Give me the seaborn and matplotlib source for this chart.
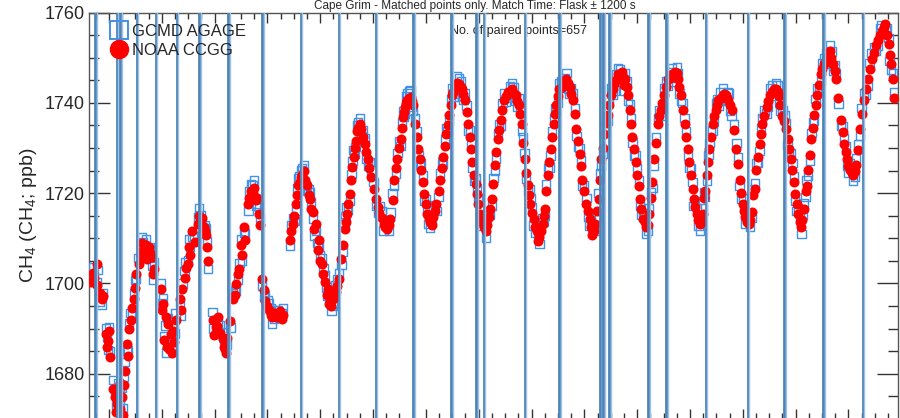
import matplotlib
matplotlib.use("Agg")
import matplotlib.pyplot as plt
from matplotlib.lines import Line2D
from matplotlib.ticker import MultipleLocator
import pandas as pd
import seaborn as sns

# Sampling times of the paired flask / in-situ measurements (decimal year)
pair_time = [
    1993.66, 1993.72, 1993.77, 1993.83, 1993.89, 1993.94, 1993.98, 1994.02, 1994.08, 1994.11,
    1994.15, 1994.21, 1994.24, 1994.28,
    1994.34, 1994.38, 1994.41, 1994.47, 1994.51, 1994.56, 1994.60, 1994.64, 1994.70, 1994.75,
    1994.81, 1994.85,
    1994.98, 1995.02, 1995.07, 1995.11, 1995.17, 1995.22, 1995.26,
    1995.34, 1995.39, 1995.43, 1995.49, 1995.54, 1995.62, 1995.68, 1995.73, 1995.79, 1995.83,
    1995.88,
    1995.96, 1996.02, 1996.07, 1996.15, 1996.20, 1996.24, 1996.30,
    1996.35, 1996.41, 1996.47, 1996.52, 1996.58, 1996.64, 1996.69, 1996.75, 1996.81, 1996.84,
    1996.90, 1996.96, 1997.03, 1997.09, 1997.16, 1997.24, 1997.30,
    1997.43, 1997.48, 1997.54, 1997.58, 1997.63, 1997.69, 1997.75, 1997.80, 1997.86, 1997.92,
    1997.97,
    1998.03, 1998.09, 1998.14, 1998.18, 1998.24, 1998.29, 1998.35,
    1998.43, 1998.46, 1998.50, 1998.56, 1998.61, 1998.65, 1998.69, 1998.75, 1998.78, 1998.84,
    1998.90,
    1998.97, 1999.05, 1999.12, 1999.20, 1999.27, 1999.33,
    1999.40, 1999.46, 1999.52, 1999.57, 1999.61, 1999.65, 1999.71, 1999.76, 1999.80,
    1999.86, 1999.91, 1999.97, 2000.03, 2000.08, 2000.14, 2000.20,
    2000.27, 2000.33, 2000.38, 2000.44, 2000.50, 2000.55, 2000.63, 2000.69, 2000.74, 2000.80,
    2000.86, 2000.91, 2000.97, 2001.02, 2001.08, 2001.14, 2001.19, 2001.25,
    2001.31, 2001.36, 2001.42, 2001.48, 2001.55, 2001.63, 2001.70, 2001.76, 2001.82,
    2001.87, 2001.93, 2001.98, 2002.04, 2002.10, 2002.15, 2002.21, 2002.25,
    2002.31, 2002.36, 2002.42, 2002.47, 2002.53, 2002.61, 2002.66, 2002.72, 2002.78,
    2002.85, 2002.91, 2002.96, 2003.04, 2003.10, 2003.15, 2003.21, 2003.27,
    2003.32, 2003.38, 2003.44, 2003.51, 2003.57, 2003.64, 2003.72, 2003.77, 2003.83,
    2003.89, 2003.94, 2004.00, 2004.06, 2004.11, 2004.17, 2004.23,
    2004.32, 2004.40, 2004.45, 2004.51, 2004.58, 2004.66, 2004.72, 2004.77, 2004.83,
    2004.90, 2004.96, 2005.02, 2005.07, 2005.13, 2005.19, 2005.24,
    2005.32, 2005.37, 2005.43, 2005.49, 2005.54, 2005.62, 2005.68, 2005.73, 2005.79,
    2005.88, 2005.94, 2006.00, 2006.05, 2006.11, 2006.17,
    2006.26, 2006.32, 2006.37, 2006.45, 2006.52, 2006.60, 2006.66, 2006.71,
    2006.82, 2006.88, 2006.94, 2006.99, 2007.05, 2007.11, 2007.16,
    2007.24, 2007.30, 2007.35, 2007.41, 2007.48, 2007.54, 2007.60, 2007.65, 2007.71, 2007.77,
    2007.86, 2007.92, 2007.97, 2008.03, 2008.09, 2008.14,
    2008.22, 2008.29, 2008.37, 2008.44, 2008.52, 2008.60, 2008.67, 2008.73, 2008.78, 2008.84,
]

# NOAA CCGG flask CH4 (ppb)
noaa_ch4 = [
    1700.4, 1701.3, 1699.6, 1697.8, 1697.1, 1688.7, 1687.2, 1683.8, 1676.5, 1674.8,
    1673.2, 1672.1, 1674.8, 1677.6,
    1686.5, 1689.8, 1692.0, 1696.5, 1702.0, 1704.2, 1706.4, 1707.5, 1708.6, 1708.0,
    1705.8, 1703.1,
    1698.7, 1695.4, 1692.5, 1690.9, 1688.7, 1689.4, 1692.0,
    1696.5, 1698.7, 1701.3, 1704.2, 1706.4, 1709.1, 1713.1, 1713.7, 1712.4, 1710.8,
    1704.9,
    1692.0, 1690.3, 1692.5, 1687.6, 1685.4, 1688.0, 1691.6,
    1696.5, 1699.8, 1703.1, 1706.4, 1709.7, 1717.5, 1720.4, 1721.2, 1719.0, 1715.3,
    1700.9, 1696.0, 1694.2, 1692.5, 1692.5, 1693.8, 1693.1,
    1709.7, 1713.1, 1717.5, 1721.9, 1723.5, 1724.8, 1721.9, 1718.6, 1715.9, 1713.1,
    1709.7,
    1704.2, 1700.4, 1698.7, 1696.9, 1696.5, 1698.2, 1700.9,
    1708.6, 1712.0, 1715.3, 1719.7, 1725.7, 1730.1, 1733.7, 1735.2, 1734.1, 1730.8,
    1727.5,
    1723.5, 1718.6, 1715.7, 1713.1, 1712.0, 1714.2,
    1723.0, 1727.5, 1731.9, 1736.8, 1739.0, 1740.7, 1741.4, 1739.6, 1735.2,
    1729.7, 1725.2, 1719.7, 1715.3, 1713.7, 1714.6, 1717.5,
    1723.0, 1727.9, 1733.0, 1737.4, 1741.8, 1743.4, 1744.1, 1743.0, 1740.7, 1735.2,
    1729.7, 1724.1, 1719.7, 1715.3, 1713.1, 1711.5, 1714.6, 1718.6,
    1726.3, 1731.9, 1736.3, 1740.7, 1742.5, 1743.0, 1741.8, 1739.6, 1735.2,
    1727.5, 1721.9, 1717.5, 1714.2, 1711.5, 1710.2, 1713.1, 1716.4,
    1724.1, 1729.7, 1735.2, 1739.6, 1743.0, 1744.7, 1745.2, 1743.4, 1740.7,
    1734.1, 1728.6, 1723.0, 1717.5, 1714.2, 1710.8, 1713.1, 1718.6,
    1727.5, 1733.0, 1737.4, 1741.8, 1744.1, 1746.3, 1746.9, 1745.2, 1741.8,
    1735.2, 1729.7, 1724.1, 1718.6, 1714.2, 1712.4, 1715.3,
    1727.5, 1735.2, 1738.5, 1741.8, 1745.2, 1746.3, 1746.9, 1745.2, 1741.8,
    1735.2, 1729.7, 1724.1, 1718.6, 1715.3, 1713.1, 1715.3,
    1724.1, 1729.7, 1735.2, 1738.5, 1740.7, 1741.8, 1741.8, 1740.7, 1738.5,
    1729.7, 1723.0, 1717.5, 1714.6, 1713.1, 1715.9,
    1725.2, 1730.8, 1735.2, 1739.0, 1741.8, 1743.0, 1742.5, 1739.6,
    1734.1, 1729.7, 1725.2, 1719.7, 1715.3, 1712.4, 1716.4,
    1725.2, 1731.9, 1737.4, 1741.8, 1746.3, 1748.5, 1750.0, 1751.4, 1748.5, 1745.2,
    1736.3, 1730.8, 1727.5, 1725.2, 1724.1, 1726.3,
    1734.1, 1740.7, 1745.2, 1749.6, 1752.9, 1755.1, 1756.7, 1755.1, 1750.7, 1745.2,
]

# AGAGE GCMD in-situ CH4 (ppb) at the same times
agage_ch4 = [
    1701.8, 1702.0, 1700.2, 1696.0, 1697.9, 1690.1, 1685.3, 1684.9, 1678.6, 1676.3,
    1674.0, 1673.5, 1676.9, 1679.2,
    1685.0, 1691.2, 1693.4, 1697.8, 1701.1, 1705.6, 1707.5, 1709.2, 1709.8, 1706.9,
    1703.9, 1704.6,
    1700.1, 1696.8, 1690.7, 1692.4, 1687.1, 1691.0, 1693.3,
    1695.2, 1700.0, 1702.8, 1705.1, 1708.0, 1710.4, 1714.6, 1715.2, 1711.0, 1712.3,
    1703.2,
    1693.7, 1688.9, 1691.1, 1689.2, 1686.8, 1686.5, 1690.2,
    1697.9, 1698.4, 1704.5, 1705.0, 1711.2, 1716.0, 1721.9, 1722.8, 1717.6, 1716.9,
    1699.5, 1697.4, 1695.6, 1691.0, 1694.0, 1692.4, 1694.6,
    1708.3, 1714.5, 1716.1, 1723.4, 1725.0, 1726.3, 1720.5, 1720.1, 1714.4, 1711.6,
    1708.2,
    1705.7, 1701.8, 1697.3, 1698.4, 1695.1, 1699.6, 1702.3,
    1707.1, 1713.5, 1716.8, 1718.2, 1727.1, 1728.6, 1735.1, 1736.6, 1732.7, 1732.2,
    1726.1,
    1725.0, 1717.2, 1717.1, 1711.7, 1713.4, 1715.7,
    1721.6, 1728.9, 1730.5, 1738.2, 1737.6, 1742.1, 1742.8, 1738.2, 1736.6,
    1728.3, 1726.6, 1718.3, 1716.7, 1712.3, 1716.0, 1716.1,
    1724.4, 1726.5, 1734.4, 1736.0, 1743.2, 1742.0, 1745.5, 1741.6, 1742.1, 1733.8,
    1731.1, 1722.7, 1721.1, 1713.9, 1714.5, 1710.1, 1716.0, 1717.2,
    1724.9, 1733.3, 1734.9, 1742.1, 1741.1, 1744.4, 1740.4, 1741.0, 1733.8,
    1728.9, 1720.5, 1718.9, 1712.8, 1712.9, 1708.8, 1714.5, 1715.0,
    1725.5, 1728.3, 1736.6, 1738.2, 1744.4, 1743.3, 1746.6, 1742.0, 1742.1,
    1732.7, 1730.0, 1721.6, 1718.9, 1712.8, 1712.2, 1711.7, 1720.0,
    1726.1, 1734.4, 1736.0, 1743.2, 1742.7, 1747.7, 1745.5, 1746.6, 1740.4,
    1736.6, 1728.3, 1725.5, 1717.2, 1715.6, 1711.0, 1716.7,
    1726.1, 1736.6, 1737.1, 1743.2, 1743.8, 1747.7, 1745.5, 1746.6, 1740.4,
    1736.6, 1728.3, 1725.5, 1717.2, 1716.7, 1711.7, 1716.7,
    1722.7, 1731.1, 1733.8, 1739.9, 1739.3, 1743.2, 1740.4, 1742.1, 1737.1,
    1731.1, 1721.6, 1718.9, 1713.2, 1714.5, 1714.5,
    1726.6, 1729.4, 1736.6, 1737.6, 1743.2, 1741.6, 1743.9, 1738.2,
    1735.5, 1728.3, 1726.6, 1718.3, 1716.7, 1711.0, 1717.8,
    1723.8, 1733.3, 1736.0, 1743.2, 1744.9, 1749.9, 1748.6, 1752.8, 1747.1, 1746.6,
    1734.9, 1732.2, 1726.1, 1726.6, 1722.7, 1727.7,
    1732.7, 1742.1, 1743.8, 1751.0, 1751.5, 1756.5, 1755.3, 1756.5, 1749.3, 1746.6,
]

# Second batch of matched pairs: time, NOAA CCGG, AGAGE GCMD
extra_time = [
    1993.70, 1993.78, 1993.86, 1993.96, 1994.00, 1994.13, 1994.18, 1994.26, 1994.30, 1994.20,
    1994.36, 1994.43, 1994.49, 1994.62, 1994.66, 1994.68, 1994.72, 1994.78, 1994.83,
    1995.00, 1995.05, 1995.09, 1995.14, 1995.19, 1995.24, 1995.36, 1995.45, 1995.52, 1995.58,
    1995.70, 1995.76, 1995.81, 1995.86, 1995.98, 1996.04, 1996.10, 1996.18, 1996.22,
    1996.38, 1996.44, 1996.50, 1996.55, 1996.66, 1996.72, 1996.78, 1996.86,
    1996.93, 1997.00, 1997.06, 1997.13, 1997.20, 1997.27,
    1997.45, 1997.51, 1997.56, 1997.61, 1997.66, 1997.72, 1997.78, 1997.83, 1997.89, 1997.95,
    1998.00, 1998.06, 1998.12, 1998.16, 1998.21, 1998.27, 1998.32,
    1998.40, 1998.48, 1998.53, 1998.59, 1998.63, 1998.67, 1998.72,
    1998.81, 1998.87, 1998.93, 1999.01, 1999.09, 1999.16, 1999.23, 1999.30,
    1999.37, 1999.43, 1999.49, 1999.55, 1999.59, 1999.63, 1999.68, 1999.73,
    1999.83, 1999.89, 1999.94, 2000.00, 2000.05, 2000.11, 2000.17,
    2000.24, 2000.30, 2000.36, 2000.41, 2000.47, 2000.52, 2000.58, 2000.66, 2000.71, 2000.77,
    2000.83, 2000.88, 2000.94, 2000.99, 2001.05, 2001.11, 2001.16, 2001.22,
    2001.28, 2001.33, 2001.39, 2001.45, 2001.51, 2001.59, 2001.66, 2001.73, 2001.79,
    2001.84, 2001.90, 2001.96, 2002.01, 2002.07, 2002.13, 2002.18, 2002.23,
    2002.28, 2002.34, 2002.39, 2002.45, 2002.50, 2002.57, 2002.64, 2002.69, 2002.75,
    2002.82, 2002.88, 2002.94, 2003.00, 2003.07, 2003.13, 2003.18, 2003.24,
    2003.30, 2003.35, 2003.41, 2003.47, 2003.54, 2003.60, 2003.68, 2003.75, 2003.80,
    2003.86, 2003.91, 2003.97, 2004.03, 2004.08, 2004.14, 2004.20, 2004.26,
    2004.29, 2004.36, 2004.42, 2004.48, 2004.55, 2004.62, 2004.69, 2004.75, 2004.80,
    2004.86, 2004.93, 2004.99, 2005.05, 2005.10, 2005.16, 2005.21, 2005.27,
    2005.29, 2005.35, 2005.40, 2005.46, 2005.51, 2005.58, 2005.65, 2005.71, 2005.76,
    2005.83, 2005.91, 2005.97, 2006.02, 2006.08, 2006.14, 2006.20,
    2006.23, 2006.29, 2006.35, 2006.41, 2006.48, 2006.56, 2006.63, 2006.69, 2006.75,
    2006.79, 2006.85, 2006.91, 2006.97, 2007.02, 2007.08, 2007.13, 2007.19,
    2007.21, 2007.27, 2007.33, 2007.38, 2007.44, 2007.51, 2007.57, 2007.63, 2007.68, 2007.74,
    2007.81, 2007.89, 2007.95, 2008.00, 2008.06, 2008.12, 2008.18,
    2008.25, 2008.33, 2008.40, 2008.48, 2008.56, 2008.63, 2008.70, 2008.76, 2008.81, 2008.87,
]
extra_noaa = [
    1702.4, 1704.3, 1696.5, 1686.0, 1689.5, 1671.5, 1675.5, 1670.8, 1680.5, 1678.0,
    1684.0, 1694.5, 1699.0, 1709.0, 1706.0, 1707.0, 1705.5, 1706.8, 1702.0,
    1694.0, 1687.5, 1686.0, 1685.5, 1684.5, 1687.0, 1694.0, 1703.5, 1708.0, 1711.5,
    1715.0, 1714.5, 1711.5, 1708.0, 1688.5, 1690.5, 1689.0, 1686.0, 1684.5,
    1697.5, 1702.0, 1708.5, 1712.5, 1719.0, 1720.0, 1718.5, 1713.0,
    1698.5, 1695.0, 1693.0, 1693.5, 1692.8, 1692.2,
    1711.5, 1715.0, 1719.5, 1722.5, 1724.0, 1723.0, 1719.5, 1716.5, 1712.0, 1707.5,
    1705.0, 1702.0, 1697.5, 1695.5, 1695.0, 1697.0, 1699.5,
    1705.5, 1713.5, 1717.5, 1723.0, 1728.0, 1731.5, 1734.5,
    1732.5, 1729.0, 1725.5, 1721.0, 1717.0, 1714.5, 1712.5, 1713.0,
    1718.5, 1725.5, 1730.0, 1734.5, 1738.0, 1740.0, 1741.0, 1740.5,
    1732.5, 1727.5, 1722.5, 1717.5, 1714.5, 1713.0, 1716.0,
    1720.5, 1725.5, 1730.5, 1735.0, 1739.5, 1742.5, 1744.5, 1743.5, 1742.0, 1738.0,
    1732.5, 1727.0, 1722.0, 1717.5, 1714.0, 1712.5, 1713.0, 1716.5,
    1722.0, 1729.0, 1734.0, 1738.5, 1741.5, 1742.5, 1742.0, 1740.5, 1737.5,
    1731.0, 1724.5, 1719.5, 1715.5, 1712.5, 1709.5, 1711.5, 1715.0,
    1720.5, 1727.0, 1732.5, 1737.5, 1741.5, 1743.5, 1744.0, 1744.5, 1742.0,
    1737.5, 1731.5, 1726.0, 1720.5, 1716.0, 1712.5, 1711.5, 1716.0,
    1723.0, 1730.0, 1735.5, 1739.5, 1743.0, 1745.0, 1746.0, 1744.0, 1743.5,
    1738.5, 1732.5, 1727.0, 1721.5, 1716.5, 1713.5, 1713.0, 1719.0,
    1722.5, 1731.0, 1737.0, 1740.0, 1743.5, 1745.5, 1746.0, 1746.5, 1743.5,
    1738.5, 1732.5, 1727.0, 1721.0, 1717.0, 1714.0, 1713.5, 1719.0,
    1720.5, 1727.0, 1732.5, 1737.0, 1739.5, 1741.0, 1742.0, 1741.0, 1739.5,
    1734.0, 1726.5, 1720.0, 1716.0, 1713.5, 1714.0, 1719.5,
    1721.0, 1728.0, 1733.0, 1737.0, 1740.5, 1742.5, 1743.0, 1741.5, 1737.0,
    1736.0, 1732.0, 1727.5, 1722.5, 1717.5, 1713.5, 1714.0, 1720.5,
    1721.5, 1728.5, 1734.5, 1739.5, 1744.0, 1747.5, 1749.5, 1750.5, 1750.0, 1747.0,
    1741.0, 1733.5, 1729.0, 1726.0, 1724.5, 1725.0, 1729.5,
    1737.5, 1743.0, 1747.5, 1751.0, 1754.0, 1756.0, 1757.5, 1753.0, 1748.5, 1741.0,
]
extra_agage = [
    1703.5, 1702.9, 1695.2, 1688.1, 1690.3, 1673.0, 1677.9, 1672.4, 1682.6, 1676.9,
    1685.3, 1693.2, 1700.8, 1710.2, 1707.9, 1705.6, 1706.3, 1708.1, 1700.7,
    1695.6, 1688.3, 1684.7, 1687.2, 1686.0, 1688.9, 1692.8, 1704.7, 1709.9, 1710.4,
    1716.6, 1713.3, 1712.8, 1709.4, 1690.0, 1689.2, 1690.7, 1687.4, 1685.9,
    1698.6, 1700.9, 1709.7, 1711.2, 1720.4, 1721.7, 1717.1, 1714.5,
    1697.0, 1696.3, 1694.6, 1692.1, 1694.0, 1693.5,
    1712.9, 1713.8, 1721.0, 1723.8, 1725.6, 1721.7, 1720.8, 1717.9, 1710.6, 1709.0,
    1706.2, 1703.4, 1699.1, 1696.8, 1693.9, 1698.5, 1701.0,
    1704.1, 1714.9, 1716.2, 1724.3, 1729.6, 1730.2, 1735.8,
    1733.9, 1727.6, 1726.9, 1722.4, 1715.7, 1716.0, 1713.8, 1711.6,
    1719.9, 1724.2, 1731.5, 1735.7, 1736.8, 1741.4, 1742.6, 1739.1,
    1733.8, 1726.2, 1723.9, 1718.7, 1713.2, 1714.4, 1717.3,
    1719.1, 1726.8, 1731.9, 1733.7, 1740.8, 1741.3, 1745.9, 1744.7, 1740.6, 1739.4,
    1733.9, 1725.6, 1723.3, 1718.9, 1712.7, 1713.8, 1714.6, 1715.1,
    1723.4, 1727.7, 1735.3, 1739.9, 1740.2, 1743.8, 1743.4, 1739.2, 1738.9,
    1732.3, 1723.1, 1720.8, 1716.9, 1711.2, 1710.9, 1712.7, 1713.6,
    1721.9, 1725.7, 1733.8, 1738.9, 1740.1, 1744.8, 1745.4, 1743.1, 1743.3,
    1738.8, 1730.2, 1727.4, 1721.8, 1714.7, 1713.9, 1712.8, 1714.6,
    1724.4, 1728.7, 1736.8, 1740.9, 1741.7, 1746.3, 1747.4, 1742.6, 1744.9,
    1739.8, 1731.2, 1728.4, 1722.8, 1715.1, 1714.9, 1711.6, 1720.3,
    1721.2, 1732.4, 1738.3, 1738.6, 1744.9, 1746.8, 1744.7, 1747.9, 1742.1,
    1739.9, 1733.8, 1725.6, 1722.4, 1718.3, 1712.7, 1714.9, 1720.2,
    1719.2, 1728.4, 1733.9, 1735.7, 1740.8, 1742.3, 1740.6, 1742.4, 1738.2,
    1735.3, 1727.9, 1718.7, 1717.4, 1714.8, 1712.6, 1720.9,
    1722.3, 1726.7, 1734.4, 1738.3, 1739.2, 1743.9, 1744.3, 1740.1, 1738.4,
    1737.3, 1730.7, 1728.9, 1723.8, 1716.1, 1714.9, 1715.3, 1719.2,
    1722.9, 1727.2, 1735.8, 1740.9, 1742.7, 1748.8, 1750.9, 1749.2, 1751.4, 1748.3,
    1739.7, 1734.9, 1730.3, 1724.6, 1725.9, 1723.7, 1730.8,
    1738.9, 1741.7, 1748.8, 1752.4, 1752.7, 1757.3, 1756.1, 1754.4, 1747.2, 1742.3,
]

# Dates of instrument / calibration events marked on the record
event_time = [
    1993.74, 1994.15, 1994.21, 1994.53, 1994.89, 1995.28, 1995.71, 1996.26, 1996.90,
    1997.63, 1998.35, 1999.05, 1999.76, 2000.48, 2000.95, 2001.10, 2001.87, 2002.53,
    2003.30, 2003.36, 2003.47, 2004.21, 2004.55, 2005.30, 2006.09, 2006.79, 2007.52,
    2008.27,
]

n_pairs = 657

noaa = pd.DataFrame({"time": pair_time + extra_time, "ch4": noaa_ch4 + extra_noaa})
agage = pd.DataFrame({"time": pair_time + extra_time, "ch4": agage_ch4 + extra_agage})

sns.set_style("ticks")
plt.rcParams["font.family"] = ["Liberation Sans", "DejaVu Sans"]
plt.rcParams["mathtext.fontset"] = "custom"
plt.rcParams["mathtext.rm"] = "Liberation Sans"

fig = plt.figure(figsize=(9.0, 4.18), dpi=100)
ax = fig.add_axes([0.0994, -0.002, 0.8984, 0.972])

sns.scatterplot(data=agage, x="time", y="ch4", ax=ax, marker="s", s=36,
                facecolors="none", edgecolor="#3f93ea", linewidth=1.0, zorder=3)
sns.scatterplot(data=noaa, x="time", y="ch4", ax=ax, marker="o", s=52,
                color="#ff0000", edgecolor="#ff0000", linewidth=0, zorder=4)

for t in event_time:
    ax.axvline(t, color="#4c84b8", lw=2.0, zorder=5)
    ax.axvline(t + 0.028, color="#9fc3e6", lw=1.0, zorder=5)

ax.set_xlim(1993.63, 2008.94)
ax.set_ylim(1670, 1760)
ax.xaxis.set_major_locator(MultipleLocator(1))
ax.xaxis.set_minor_locator(MultipleLocator(0.25))
ax.yaxis.set_major_locator(MultipleLocator(20))
ax.yaxis.set_minor_locator(MultipleLocator(5))
ax.tick_params(which="both", direction="in", top=True, right=True, color="#333333")
ax.tick_params(which="major", axis="y", length=15, width=1.0, labelsize=13)
ax.tick_params(which="minor", axis="y", length=7, width=1.0)
ax.tick_params(which="major", axis="x", length=7, width=1.0, labelbottom=False)
ax.tick_params(which="minor", axis="x", length=4, width=1.0)
for sp in ax.spines.values():
    sp.set_color("#555555")
    sp.set_linewidth(1.0)

ax.set_xlabel("")
ax.set_ylabel("CH$_4$ (CH$_4$; ppb)", fontsize=14, labelpad=4)

handles = [
    Line2D([], [], marker="s", ls="none", markersize=13, markerfacecolor="none",
           markeredgecolor="#3f93ea", markeredgewidth=1.4),
    Line2D([], [], marker="o", ls="none", markersize=13, color="#ff0000"),
]
ax.legend(handles, ["GCMD AGAGE", "NOAA CCGG"], loc="upper left", frameon=False,
          fontsize=12, handletextpad=0.15, borderaxespad=0.3, labelspacing=0.2,
          handlelength=1.2, bbox_to_anchor=(0.01, 1.0))

ax.text(0.4465, 0.955, f"No. of paired points={n_pairs}", transform=ax.transAxes,
        fontsize=9, ha="left", va="center")

fig.text(0.528, 0.978, "Cape Grim - Matched points only. Match Time: Flask \u00b1 1200 s",
         fontsize=8.5, ha="center", va="baseline")

fig.savefig("out.png", dpi=100)
